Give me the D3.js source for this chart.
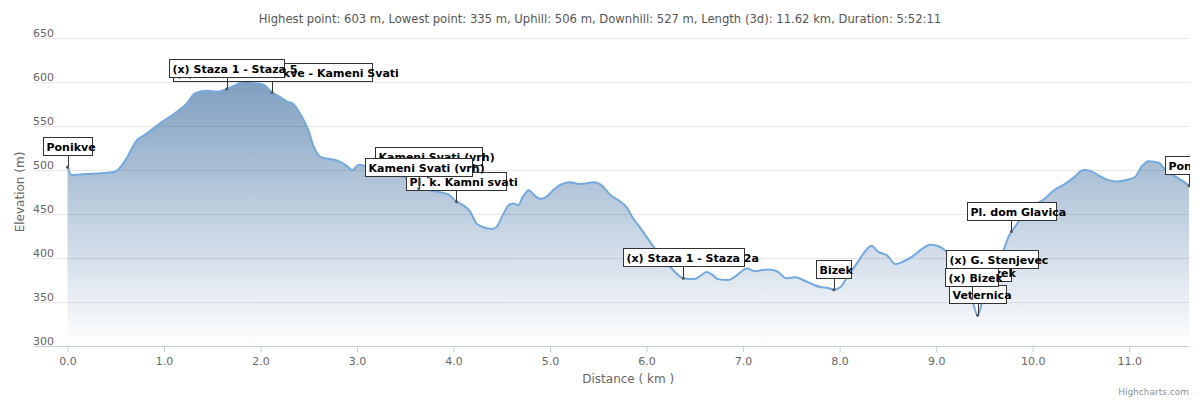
<!DOCTYPE html>
<html><head><meta charset="utf-8">
<script src="https://cdn.jsdelivr.net/npm/d3@7"></script>
<style>body{margin:0;background:#fff}svg{display:block;font-family:"DejaVu Sans",Verdana,sans-serif}</style>
</head><body><svg id="c" width="1200" height="400"></svg>
<script>
const titleText = "Highest point: 603 m, Lowest point: 335 m, Uphill: 506 m, Downhill: 527 m, Length (3d): 11.62 km, Duration: 5:52:11";
const distKm = [0.00,0.04,0.13,0.30,0.49,0.54,0.61,0.72,0.79,0.96,1.13,1.24,1.32,1.44,1.55,1.65,1.75,1.85,1.93,2.03,2.12,2.20,2.27,2.34,2.41,2.50,2.55,2.62,2.69,2.79,2.89,2.95,3.02,3.10,3.25,3.40,3.55,3.64,3.80,3.95,4.03,4.10,4.17,4.24,4.31,4.40,4.45,4.52,4.57,4.62,4.67,4.72,4.78,4.83,4.90,4.97,5.03,5.12,5.21,5.31,5.38,5.45,5.55,5.62,5.73,5.79,5.86,5.93,6.00,6.07,6.15,6.26,6.38,6.49,6.55,6.62,6.68,6.74,6.85,6.93,7.04,7.12,7.26,7.35,7.45,7.54,7.66,7.80,7.88,7.94,8.01,8.07,8.18,8.26,8.33,8.40,8.49,8.58,8.66,8.77,8.85,8.94,9.01,9.11,9.20,9.30,9.37,9.43,9.50,9.58,9.65,9.70,9.75,9.78,9.84,9.91,10.01,10.11,10.22,10.32,10.42,10.53,10.60,10.68,10.77,10.87,10.98,11.06,11.13,11.20,11.31,11.39,11.49,11.56,11.62];
const elevM = [505,494,495,496,498,502,513,534,539,553,566,576,587,590,589,592,597,602,599,597,588,583,578,575,564,544,527,515,513,511,505,500,506,504,501,496,488,480,476,472,464,460,453,439,435,433,436,451,460,462,460,470,477,472,467,470,477,484,486,484,485,486,481,472,464,458,445,435,424,413,403,388,377,376,379,384,381,376,375,380,388,385,387,385,377,378,373,367,366,364,367,377,394,407,414,407,403,393,396,403,410,415,414,407,395,375,354,335,360,375,395,409,424,430,439,453,460,466,477,483,491,500,499,494,489,487,489,492,504,510,508,498,492,487,482];
// waypoints, in drawing order (first = bottom)
const wpName = ["Ponikve","Pl. dom Glavica","(x) Bizek","(x) G. Stenjevec","Veternica","(x) Bizek","Bizek","(x) Staza 1 - Staza 2a","Pl. k. Kamni svati","Kameni Svati (vrh)","Kameni Svati (vrh)","(x) Staza 5 - Ponikve - Kameni Svati","(x) Staza 1 - Staza 5","Ponikve"];
const wpKm   = [11.62,9.78,9.50,9.58,9.43,9.37,7.94,6.38,4.03,3.74,3.64,2.12,1.65,0.00];
const wpElev = [482,430,360,375,335,354,364,377,464,492,479,588,592,503];
const yTicks = [300,350,400,450,500,550,600,650];
const xTicks = [0,1,2,3,4,5,6,7,8,9,10,11];
const yTitle = "Elevation (m)";
const xTitle = "Distance ( km )";
const credit = "Highcharts.com";

const svg = d3.select("#c");
const L = 67.5, R = 1189, T = 38, B = 346;
const x = d3.scaleLinear().domain([0, 11.62]).range([L, R]);
const y = d3.scaleLinear().domain([300, 650]).range([B, T]);
const pts = distKm.map((d,i)=>[d, elevM[i]]);

const defs = svg.append("defs");
const g = defs.append("linearGradient").attr("id","ag").attr("gradientUnits","userSpaceOnUse")
  .attr("x1",0).attr("x2",0).attr("y1",y(d3.max(elevM))).attr("y2",B);
g.append("stop").attr("offset",0).attr("stop-color","#7f9fc0");
g.append("stop").attr("offset",1).attr("stop-color","#ffffff");
defs.append("clipPath").attr("id","lc").append("rect").attr("x",0).attr("y",0).attr("width",1190).attr("height",400);

svg.append("text").attr("x",600).attr("y",23).attr("text-anchor","middle")
  .attr("font-size",11.6).attr("fill","#555").text(titleText);

const area = d3.area().x(d=>x(d[0])).y0(B).y1(d=>y(d[1])).curve(d3.curveMonotoneX);
const line = d3.line().x(d=>x(d[0])).y(d=>y(d[1])).curve(d3.curveMonotoneX);
svg.append("path").datum(pts).attr("d",area).attr("fill","url(#ag)");

// grid
svg.append("g").selectAll("line").data(yTicks).join("line")
  .attr("x1",34).attr("x2",R).attr("y1",d=>Math.round(y(d))+0.5).attr("y2",d=>Math.round(y(d))+0.5)
  .attr("stroke","#000").attr("stroke-opacity",d=>d===300?0:0.09);
svg.append("line").attr("x1",34).attr("x2",R).attr("y1",B+0.5).attr("y2",B+0.5).attr("stroke","#C0D0E0");

svg.append("path").datum(pts).attr("d",line).attr("fill","none").attr("stroke","#74a9e0").attr("stroke-width",2);

// y labels
svg.append("g").selectAll("text").data(yTicks).join("text")
  .attr("x",54).attr("y",d=>y(d)-1.5).attr("text-anchor","end").attr("font-size",11).attr("fill","#666").text(d=>d);
// x axis
const xa = d3.axisBottom(x).tickValues(xTicks).tickFormat(d3.format(".1f")).tickSize(6).tickPadding(5);
const xg = svg.append("g").attr("transform",`translate(0,${B})`).call(xa);
xg.select(".domain").remove();
xg.selectAll(".tick line").attr("stroke","#C0D0E0");
xg.selectAll(".tick text").attr("font-size",11).attr("fill","#666").attr("font-family","DejaVu Sans");

svg.append("text").attr("transform",`translate(24,192) rotate(-90)`).attr("text-anchor","middle")
  .attr("font-size",12).attr("fill","#666").text(yTitle);
svg.append("text").attr("x",(L+R)/2).attr("y",383).attr("text-anchor","middle")
  .attr("font-size",12).attr("fill","#666").text(xTitle);
svg.append("text").attr("x",1189).attr("y",395).attr("text-anchor","end")
  .attr("font-size",9).attr("fill","#909090").text(credit);

// waypoint labels
const lg = svg.append("g").attr("clip-path","url(#lc)");
wpName.forEach((name,i)=>{
  const px = x(wpKm[i]), py = y(wpElev[i]);
  const gg = lg.append("g");
  const t = gg.append("text").attr("font-size",11).attr("font-weight","bold").attr("fill","#000").text(name);
  const tw = t.node().getComputedTextLength();
  const bw = Math.round(tw*0.87+6), bh = 18;
  const bx = Math.round(px - bw/2)+0.5, by = Math.round(py - 12 - bh)+0.5;
  gg.insert("rect","text").attr("x",bx).attr("y",by).attr("width",bw).attr("height",bh)
    .attr("fill","#fff").attr("stroke","#333").attr("stroke-width",1);
  t.attr("x",bx+3).attr("y",by+bh-4.5);
  gg.append("line").attr("x1",Math.round(px)+0.5).attr("x2",Math.round(px)+0.5).attr("y1",by+bh).attr("y2",py)
    .attr("stroke","#333").attr("stroke-width",1);
  gg.append("circle").attr("cx",px).attr("cy",py).attr("r",1.5).attr("fill","#555");
});
</script></body></html>
